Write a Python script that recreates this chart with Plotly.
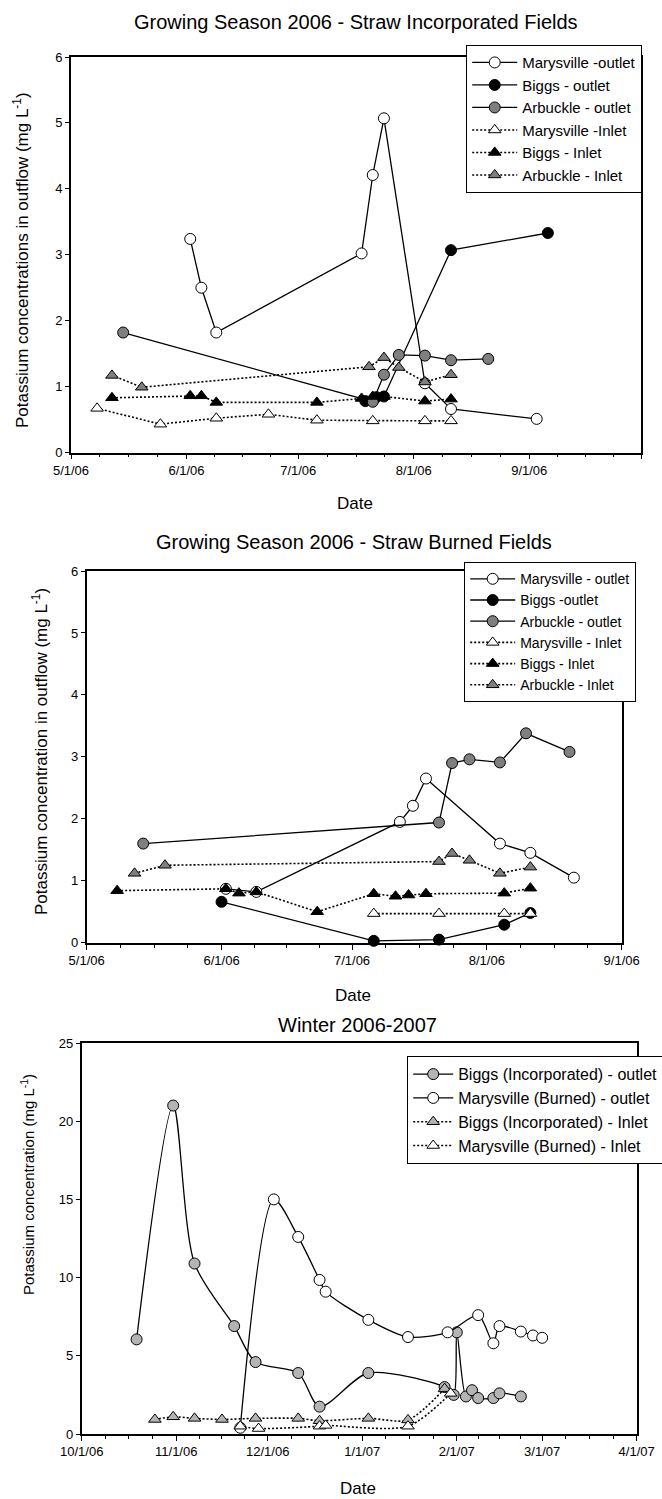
import pandas as pd
import plotly.graph_objects as go

FONT = "Liberation Sans, Arial, sans-serif"
GRAY = "#7f7f7f"
LIGHT_GRAY = "#b4b4b4"

# ---------- Growing Season 2006 - Straw Incorporated Fields ----------
inc_mary_out_dates = ["2006-06-02", "2006-06-05", "2006-06-09", "2006-07-18", "2006-07-21",
                      "2006-07-24", "2006-08-04", "2006-08-11", "2006-09-03"]
inc_mary_out_vals = [3.24, 2.50, 1.82, 3.02, 4.21, 5.07, 1.05, 0.66, 0.51]

inc_biggs_out_dates = ["2006-07-19", "2006-07-22", "2006-07-24", "2006-08-11", "2006-09-06"]
inc_biggs_out_vals = [0.78, 0.84, 0.85, 3.07, 3.33]

inc_arb_out_dates = ["2006-05-15", "2006-07-21", "2006-07-24", "2006-07-28", "2006-08-04",
                     "2006-08-11", "2006-08-21"]
inc_arb_out_vals = [1.82, 0.77, 1.18, 1.48, 1.47, 1.40, 1.42]

inc_mary_in_dates = ["2006-05-08", "2006-05-25", "2006-06-09", "2006-06-23", "2006-07-06",
                     "2006-07-21", "2006-08-04", "2006-08-11"]
inc_mary_in_vals = [0.67, 0.43, 0.52, 0.58, 0.49, 0.48, 0.48, 0.48]

inc_biggs_in_dates = ["2006-05-12", "2006-06-02", "2006-06-05", "2006-06-09", "2006-07-06",
                      "2006-07-18", "2006-07-21", "2006-07-24", "2006-08-04", "2006-08-11"]
inc_biggs_in_vals = [0.83, 0.86, 0.86, 0.76, 0.76, 0.82, 0.85, 0.85, 0.78, 0.81]

inc_arb_in_dates = ["2006-05-12", "2006-05-20", "2006-07-20", "2006-07-24", "2006-07-28",
                    "2006-08-04", "2006-08-11"]
inc_arb_in_vals = [1.17, 0.99, 1.30, 1.44, 1.29, 1.07, 1.18]

# ---------- Growing Season 2006 - Straw Burned Fields ----------
brn_mary_out_dates = ["2006-06-02", "2006-06-09", "2006-07-12", "2006-07-15", "2006-07-18",
                      "2006-08-04", "2006-08-11", "2006-08-21"]
brn_mary_out_vals = [0.87, 0.82, 1.95, 2.21, 2.65, 1.60, 1.45, 1.05]

brn_biggs_out_dates = ["2006-06-01", "2006-07-06", "2006-07-21", "2006-08-05", "2006-08-11"]
brn_biggs_out_vals = [0.66, 0.03, 0.05, 0.29, 0.48]

brn_arb_out_dates = ["2006-05-14", "2006-07-21", "2006-07-24", "2006-07-28", "2006-08-04",
                     "2006-08-10", "2006-08-20"]
brn_arb_out_vals = [1.60, 1.94, 2.90, 2.96, 2.91, 3.38, 3.08]

brn_mary_in_dates = ["2006-07-06", "2006-07-21", "2006-08-05", "2006-08-11"]
brn_mary_in_vals = [0.47, 0.47, 0.47, 0.47]

brn_biggs_in_dates = ["2006-05-08", "2006-06-02", "2006-06-05", "2006-06-09", "2006-06-23",
                      "2006-07-06", "2006-07-11", "2006-07-14", "2006-07-18", "2006-08-05",
                      "2006-08-11"]
brn_biggs_in_vals = [0.84, 0.87, 0.80, 0.82, 0.50, 0.79, 0.75, 0.77, 0.79, 0.80, 0.88]

brn_arb_in_dates = ["2006-05-12", "2006-05-19", "2006-07-21", "2006-07-24", "2006-07-28",
                    "2006-08-04", "2006-08-11"]
brn_arb_in_vals = [1.12, 1.25, 1.31, 1.44, 1.33, 1.12, 1.22]

# ---------- Winter 2006-2007 ----------
win_biggs_out_dates = ["2006-10-19", "2006-10-31", "2006-11-07", "2006-11-20", "2006-11-27",
                       "2006-12-11", "2006-12-18", "2007-01-03", "2007-01-28", "2007-01-31",
                       "2007-02-01", "2007-02-04", "2007-02-06", "2007-02-08", "2007-02-13",
                       "2007-02-15", "2007-02-22"]
win_biggs_out_vals = [6.05, 21.0, 10.9, 6.9, 4.6, 3.9, 1.75, 3.9, 3.0, 2.5,
                      6.5, 2.4, 2.8, 2.3, 2.3, 2.6, 2.4]

win_mary_out_dates = ["2006-11-22", "2006-12-03", "2006-12-11", "2006-12-18", "2006-12-20",
                      "2007-01-03", "2007-01-16", "2007-01-29", "2007-02-08", "2007-02-13",
                      "2007-02-15", "2007-02-22", "2007-02-26", "2007-03-01"]
win_mary_out_vals = [0.4, 15.0, 12.6, 9.85, 9.1, 7.3, 6.2, 6.5, 7.6, 5.8, 6.9, 6.55, 6.3, 6.15]

win_biggs_in_dates = ["2006-10-25", "2006-10-31", "2006-11-07", "2006-11-16", "2006-11-27",
                      "2006-12-11", "2006-12-18", "2007-01-03", "2007-01-16", "2007-01-28"]
win_biggs_in_vals = [0.93, 1.10, 1.0, 0.93, 1.0, 1.0, 0.85, 1.0, 0.9, 2.9]

win_mary_in_dates = ["2006-11-22", "2006-11-28", "2006-12-18", "2006-12-20", "2007-01-16",
                     "2007-01-30"]
win_mary_in_vals = [0.5, 0.35, 0.5, 0.55, 0.5, 2.6]

# Axis ranges and tick dates
inc_month_ticks = ["2006-05-01", "2006-06-01", "2006-07-01", "2006-08-01", "2006-09-01", "2006-10-01"]
brn_month_ticks = ["2006-05-01", "2006-06-01", "2006-07-01", "2006-08-01", "2006-09-01"]
win_month_ticks = ["2006-10-01", "2006-11-01", "2006-12-01", "2007-01-01", "2007-02-01",
                   "2007-03-01", "2007-04-01"]


def quarter_month_ticks(months):
    """Minor ticks splitting each month into four equal parts."""
    out = []
    ts = pd.to_datetime(months)
    for a, b in zip(ts[:-1], ts[1:]):
        step = (b - a) / 4
        for k in (1, 2, 3):
            out.append((a + k * step).strftime("%Y-%m-%d %H:%M"))
    return out


def series(name, dates, vals, fill, symbol, dotted, xa, ya, legend, spline=False):
    return go.Scatter(
        x=dates, y=vals, name=name, mode="lines+markers",
        xaxis=xa, yaxis=ya, legend=legend,
        line=dict(color="black", width=1.6 if dotted else 1.3,
                  dash="2px,2px" if dotted else "solid",
                  shape="spline" if spline else "linear", smoothing=0.8),
        marker=dict(symbol=symbol, size=11, color=fill, line=dict(color="black", width=1)),
        cliponaxis=False,
    )


fig = go.Figure()

# panel 1
fig.add_trace(series("Marysville -outlet", inc_mary_out_dates, inc_mary_out_vals, "white", "circle", False, "x", "y", "legend"))
fig.add_trace(series("Biggs - outlet", inc_biggs_out_dates, inc_biggs_out_vals, "black", "circle", False, "x", "y", "legend"))
fig.add_trace(series("Arbuckle - outlet", inc_arb_out_dates, inc_arb_out_vals, GRAY, "circle", False, "x", "y", "legend"))
fig.add_trace(series("Marysville -Inlet", inc_mary_in_dates, inc_mary_in_vals, "white", "triangle-up", True, "x", "y", "legend"))
fig.add_trace(series("Biggs - Inlet", inc_biggs_in_dates, inc_biggs_in_vals, "black", "triangle-up", True, "x", "y", "legend"))
fig.add_trace(series("Arbuckle - Inlet", inc_arb_in_dates, inc_arb_in_vals, GRAY, "triangle-up", True, "x", "y", "legend"))

# panel 2
fig.add_trace(series("Marysville - outlet", brn_mary_out_dates, brn_mary_out_vals, "white", "circle", False, "x2", "y2", "legend2"))
fig.add_trace(series("Biggs -outlet", brn_biggs_out_dates, brn_biggs_out_vals, "black", "circle", False, "x2", "y2", "legend2"))
fig.add_trace(series("Arbuckle - outlet", brn_arb_out_dates, brn_arb_out_vals, GRAY, "circle", False, "x2", "y2", "legend2"))
fig.add_trace(series("Marysville - Inlet", brn_mary_in_dates, brn_mary_in_vals, "white", "triangle-up", True, "x2", "y2", "legend2"))
fig.add_trace(series("Biggs - Inlet", brn_biggs_in_dates, brn_biggs_in_vals, "black", "triangle-up", True, "x2", "y2", "legend2"))
fig.add_trace(series("Arbuckle - Inlet", brn_arb_in_dates, brn_arb_in_vals, GRAY, "triangle-up", True, "x2", "y2", "legend2"))

# panel 3
fig.add_trace(series("Biggs (Incorporated) - outlet", win_biggs_out_dates, win_biggs_out_vals, LIGHT_GRAY, "circle", False, "x3", "y3", "legend3", True))
fig.add_trace(series("Marysville (Burned) - outlet", win_mary_out_dates, win_mary_out_vals, "white", "circle", False, "x3", "y3", "legend3", True))
fig.add_trace(series("Biggs (Incorporated) - Inlet", win_biggs_in_dates, win_biggs_in_vals, LIGHT_GRAY, "triangle-up", True, "x3", "y3", "legend3", True))
fig.add_trace(series("Marysville (Burned) - Inlet", win_mary_in_dates, win_mary_in_vals, "white", "triangle-up", True, "x3", "y3", "legend3", True))

W, H = 662, 1499


def px_x(p):
    return p / W


def px_y(p):
    return 1 - p / H


def xaxis_style(months, dom, anchor):
    return dict(
        domain=[px_x(dom[0]), px_x(dom[1])], anchor=anchor, type="date", automargin=False,
        range=[months[0], months[-1]], tickmode="array", tickvals=months,
        tickformat="%-m/%-d/%y", ticks="outside", ticklen=5, tickwidth=1.2, tickcolor="black",
        showline=True, linecolor="black", linewidth=1.6, mirror=True,
        showgrid=False, zeroline=False,
        tickfont=dict(family=FONT, size=13, color="black"),
        minor=dict(tickmode="array", tickvals=quarter_month_ticks(months), ticks="outside",
                   ticklen=3, tickwidth=1, tickcolor="black", showgrid=False),
    )


def yaxis_style(rng, dtick, dom, anchor):
    return dict(
        domain=[px_y(dom[1]), px_y(dom[0])], anchor=anchor, automargin=False,
        range=rng, dtick=dtick, tick0=0, ticks="outside", ticklen=4, tickwidth=1.2,
        tickcolor="black", showline=True, linecolor="black", linewidth=1.6, mirror=True,
        showgrid=False, zeroline=False,
        tickfont=dict(family=FONT, size=13, color="black"),
    )


def legend_style(left, top, size, itemwidth):
    return dict(x=px_x(left), y=px_y(top), xanchor="left", yanchor="top",
                bgcolor="white", bordercolor="black", borderwidth=1.2,
                itemwidth=itemwidth,
                font=dict(family=FONT, size=size, color="black"))


fig.update_layout(
    width=W, height=H, margin=dict(l=0, r=0, t=0, b=0, autoexpand=False),
    paper_bgcolor="white", plot_bgcolor="white",
    font=dict(family=FONT, color="black"),
    xaxis=xaxis_style(inc_month_ticks, (71, 641), "y"),
    yaxis=yaxis_style([0, 6], 1, (57, 452.5), "x"),
    xaxis2=xaxis_style(brn_month_ticks, (86.7, 621.7), "y2"),
    yaxis2=yaxis_style([0, 6], 1, (571, 942.7), "x2"),
    xaxis3=xaxis_style(win_month_ticks, (81.7, 636.7), "y3"),
    yaxis3=yaxis_style([0, 25], 5, (1043, 1434), "x3"),
    legend=legend_style(466, 45, 15, 45),
    legend2=legend_style(464, 562, 14, 45),
    legend3=legend_style(407, 1056, 16, 40),
    showlegend=True,
)

texts = [
    # titles
    dict(text="Growing Season 2006 - Straw Incorporated Fields", x=356, y=22, size=20, angle=0),
    dict(text="Growing Season 2006 - Straw Burned Fields", x=354, y=542, size=20, angle=0),
    dict(text="Winter 2006-2007", x=357, y=1025, size=20, angle=0),
    # x axis titles
    dict(text="Date", x=355, y=503, size=17, angle=0),
    dict(text="Date", x=353, y=995, size=17, angle=0),
    dict(text="Date", x=358, y=1488, size=17, angle=0),
    # y axis titles
    dict(text="Potassium concentrations in outflow (mg L<sup>-1</sup>)", x=21, y=260, size=17, angle=-90),
    dict(text="Potassium concentration in outflow (mg L<sup>-1</sup>)", x=40, y=752, size=17, angle=-90),
    dict(text="Potassium concentration (mg L<sup>-1</sup>)", x=27, y=1185, size=15, angle=-90),
]
for t in texts:
    fig.add_annotation(
        text=t["text"], xref="paper", yref="paper", x=px_x(t["x"]), y=px_y(t["y"]),
        xanchor="center", yanchor="middle", showarrow=False, textangle=t["angle"],
        font=dict(family=FONT, size=t["size"], color="black"),
    )

fig.write_html("out.html")
